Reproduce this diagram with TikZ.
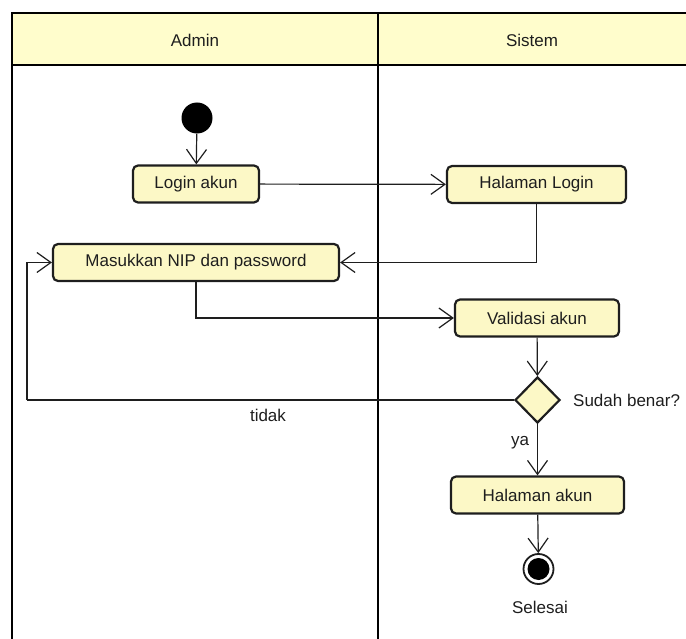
\documentclass[tikz,border=0pt]{standalone}
\usepackage{fontspec}
\setmainfont{Liberation Sans}
\usetikzlibrary{arrows.meta,shapes.geometric}
\definecolor{hdrfill}{HTML}{FFFDCC}
\definecolor{actfill}{HTML}{FCF8C6}
\definecolor{ink}{HTML}{1E1E1E}
\tikzset{
  lane/.style={line width=2.7pt, draw=black},
  act/.style={rectangle, rounded corners=5pt, draw=ink, line width=2.2pt, fill=actfill,
    inner sep=0pt, minimum height=37pt, font=\fontsize{17}{20}\selectfont, text=ink},
  lbl/.style={font=\fontsize{17}{20}\selectfont, text=ink, inner sep=0pt},
  flow/.style={draw=ink, line width=1.2pt, -{Straight Barb[length=14pt,width=20pt,line width=1.2pt]}},
  plain/.style={draw=ink, line width=1.2pt}
}
\begin{document}
\begin{tikzpicture}[x=1pt,y=-1pt]
\useasboundingbox (0,0) rectangle (686,639);
% swimlanes
\fill[hdrfill] (12,13) rectangle (686,65);
\draw[lane] (12,639) -- (12,13) -- (686,13);
\draw[lane] (12,65) -- (686,65);
\draw[lane] (378,13) -- (378,639);
\node[lbl] (hadmin) at (195,40) {Admin};
\node[lbl] (hsistem) at (532,40) {Sistem};
% nodes
\node[circle, fill=black, minimum size=31pt, inner sep=0pt] (start) at (197,118) {};
\node[act, minimum width=126pt] (login) at (196,184) {Login akun};
\node[act, minimum width=179pt] (hl) at (536.5,184.5) {Halaman Login};
\node[act, minimum width=286pt] (mn) at (196,262.5) {Masukkan NIP dan password};
\node[act, minimum width=164pt] (va) at (537,318) {Validasi akun};
\node[diamond, draw=ink, line width=2.2pt, fill=actfill, minimum width=45pt, minimum height=46pt, inner sep=0pt] (dec) at (537.5,400) {};
\node[lbl, anchor=west] (q) at (573,400) {Sudah benar?};
\node[act, minimum width=173pt] (ha) at (537.5,495) {Halaman akun};
\node[circle, draw=ink, line width=1.8pt, fill=white, minimum size=30pt, inner sep=0pt] (end) at (538.5,569) {};
\fill[black] (end.center) circle (11pt);
\node[lbl] (sel) at (540,607) {Selesai};
\coordinate (fb) at (27,400);
% connectors
\draw[flow] (start) -- (login);
\draw[flow] (login) -- (hl);
\draw[flow] (hl.south) |- (mn.east);
\draw[flow] (mn.south) |- (va.west);
\draw[flow] (va) -- (dec);
\draw[plain] (dec.west) -- (fb);
\draw[flow] (fb) |- (mn.west);
\node[lbl] (tidak) at (268,415) {tidak};
\draw[flow] (dec) -- (ha);
\node[lbl] (ya) at (520,443) {ya};
\draw[flow] (ha) -- (end);
\end{tikzpicture}
\end{document}
